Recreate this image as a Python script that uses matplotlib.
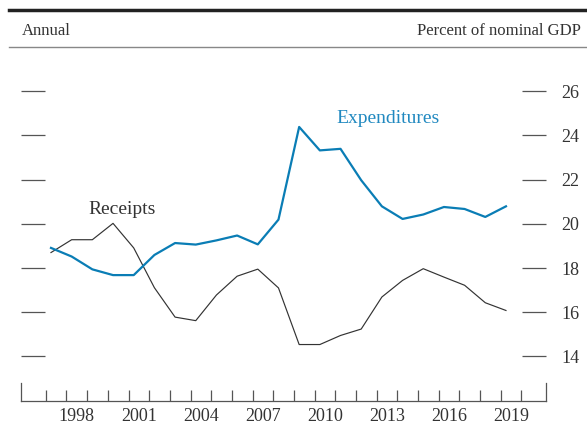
import numpy as np
import matplotlib
matplotlib.use("Agg")
import matplotlib.pyplot as plt
from matplotlib.lines import Line2D

plt.rcParams['font.family'] = ['Liberation Serif', 'DejaVu Serif']

years = np.arange(1997, 2020)
receipts = [18.70, 19.28, 19.28, 20.02, 18.91, 17.11, 15.78, 15.62, 16.78, 17.63,
            17.95, 17.10, 14.54, 14.54, 14.95, 15.24, 16.69, 17.44, 17.97, 17.59,
            17.22, 16.43, 16.08]
expenditures = [18.91, 18.52, 17.94, 17.68, 17.68, 18.59, 19.13, 19.06, 19.25, 19.47,
                19.07, 20.19, 24.38, 23.32, 23.39, 21.97, 20.79, 20.22, 20.42, 20.76,
                20.67, 20.31, 20.79]
label_years = [1998, 2001, 2004, 2007, 2010, 2013, 2016, 2019]
y_ticks = [14, 16, 18, 20, 22, 24, 26]

blue = '#0a7db5'
dark = '#333333'
tick_col = '#555555'

fig = plt.figure(figsize=(5.87, 4.28), dpi=100)
ax = fig.add_axes([21/587, 27.3/428, (546.3-21)/587, (400.7-46.9)/428])

# points sit a quarter year after the year boundary ticks
ax.plot(years + 0.25, receipts, color=dark, lw=0.85)
ax.plot(years + 0.25, expenditures, color=blue, lw=1.6)

ax.set_xlim(1995.8, 2021.2)
ax.set_ylim(12, 28)

for s in ['left', 'right', 'top']:
    ax.spines[s].set_visible(False)
ax.spines['bottom'].set_color(tick_col)
ax.spines['bottom'].set_linewidth(0.9)

# y ticks on both sides, pointing in, labels right
ax.set_yticks(y_ticks)
ax.tick_params(axis='y', left=True, right=True, labelleft=False, labelright=True,
               direction='in', length=17, width=0.9, color=tick_col,
               labelsize=13, labelcolor=dark, pad=11)

# x: year boundary ticks (minor), labels centred between them (major, no line)
ax.set_xticks(np.arange(1997, 2021), minor=True)
ax.set_xticks([y + 0.5 for y in label_years])
ax.set_xticklabels([str(y) for y in label_years])
ax.tick_params(axis='x', which='minor', direction='in', length=8, width=0.9, color=tick_col)
ax.tick_params(axis='x', which='major', length=0, labelsize=13, labelcolor=dark, pad=5)
for xe in ax.get_xlim():
    ax.axvline(xe, ymin=0, ymax=18/353.8, color=tick_col, lw=0.9, clip_on=False)

ax.text(2000.67, 20.66, 'Receipts', fontsize=14, color=dark, ha='center', va='center')
ax.text(2013.55, 24.74, 'Expenditures', fontsize=14, color='#2189c0', ha='center', va='center')

# header
fig.add_artist(Line2D([9/587, 1], [1 - 10.3/428] * 2, color='#222222', lw=2.5))
fig.add_artist(Line2D([9/587, 1], [1 - 46.7/428] * 2, color='#888888', lw=1.0))
fig.text(21.7/587, 1 - 31/428, 'Annual', fontsize=12, color=dark, ha='left', va='center')
fig.text(581/587, 1 - 31/428, 'Percent of nominal GDP', fontsize=12, color=dark,
         ha='right', va='center')

fig.savefig('out.png', dpi=100)
